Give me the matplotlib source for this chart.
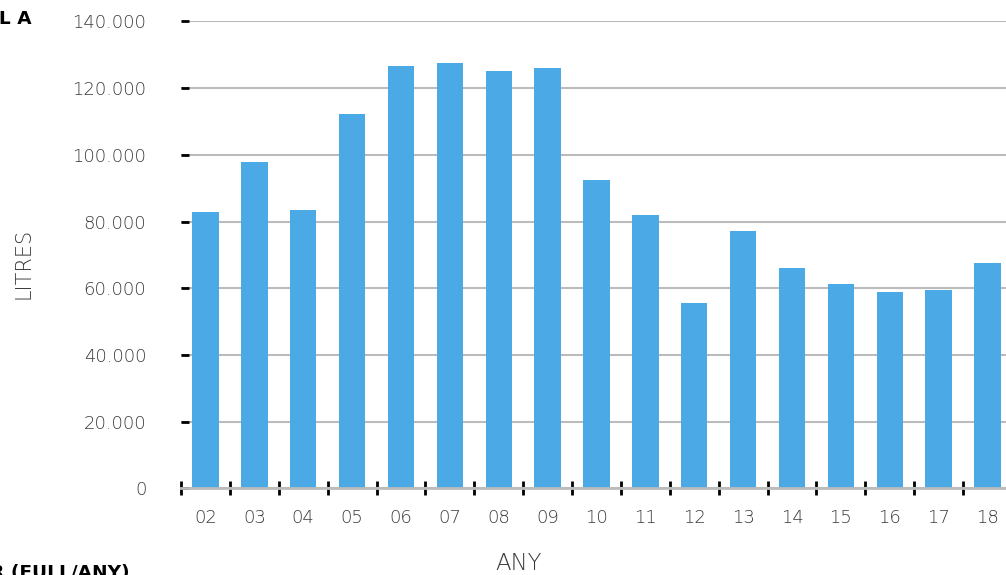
import matplotlib
matplotlib.use("Agg")
import matplotlib.pyplot as plt
import numpy as np

years = ["02", "03", "04", "05", "06", "07", "08", "09", "10", "11", "12",
         "13", "14", "15", "16", "17", "18"]
litres = [82900, 97900, 83500, 112300, 126700, 127600, 125200, 126100, 92500,
          82000, 55600, 77200, 66100, 61300, 58900, 59500, 67600]
yticks = [0, 20000, 40000, 60000, 80000, 100000, 120000, 140000]
ytick_labels = ["0", "20.000", "40.000", "60.000", "80.000", "100.000",
                "120.000", "140.000"]

W, H = 1006, 575
fig = plt.figure(figsize=(W / 100, H / 100), dpi=100)
plt.rcParams['font.family'] = ['DejaVu Sans']

left, right = 181 / W, 1012 / W
bottom, top = (H - 488.4) / H, (H - 21.4) / H
ax = fig.add_axes([left, bottom, right - left, top - bottom])

x = np.arange(len(years))
ax.bar(x, litres, width=0.54, color="#4BA9E6", zorder=2)

ax.set_xlim(-0.5, len(years) - 0.5)
ax.set_ylim(0, 140000)

txt_color = "#3a3a3a"
lw = "light"
ax.set_yticks(yticks)
ax.set_yticklabels(ytick_labels, fontsize=13, color=txt_color, fontweight=lw)
ax.yaxis.grid(True, color="#BBBBBB", linewidth=1.5, zorder=1)
ax.set_axisbelow(True)

ax.set_xticks(x)
ax.set_xticklabels(years, fontsize=13, color=txt_color, fontweight=lw)
ax.set_xticks(np.arange(-0.5, len(years) - 0.5 + 1), minor=True)

ax.tick_params(axis="y", which="major", direction="in", length=6, width=2,
               color="black", pad=25)
ax.tick_params(axis="x", which="major", length=0, pad=15)
ax.tick_params(axis="x", which="minor", direction="inout", length=10, width=2,
               color="black")

for s in ["top", "right", "left"]:
    ax.spines[s].set_visible(False)
ax.spines["bottom"].set_color("#BBBBBB")
ax.spines["bottom"].set_linewidth(2)
ax.spines["bottom"].set_zorder(3)

fig.text(24 / W, 1 - 263 / H, "LITRES", rotation=90, ha="center", va="center",
         fontsize=15, color=txt_color, fontweight=lw)
fig.text(519 / W, 1 - 563 / H, "ANY", ha="center", va="center",
         fontsize=16.5, color=txt_color, fontweight=lw)
fig.text(32 / W, 1 - 19.5 / H, "CONSUM GASOIL A", ha="right", va="center",
         fontsize=13.3, color="black", fontweight="bold")
fig.text(-10.5 / W, 1 - 564 / H, "R (FULL/ANY)", ha="left", va="top",
         fontsize=13.3, color="black", fontweight="bold")

fig.savefig("out.png", dpi=100)
